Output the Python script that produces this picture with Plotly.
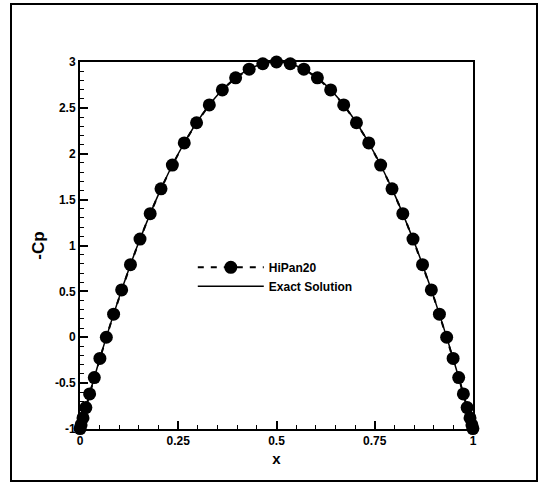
import plotly.graph_objects as go

# HiPan20 panel results
hipan_x = [0.0003, 0.0027, 0.0076, 0.0149, 0.0245, 0.0364, 0.0506, 0.0670, 0.0855, 0.1060,
           0.1284, 0.1527, 0.1786, 0.2061, 0.2350, 0.2653, 0.2966, 0.3290, 0.3622, 0.3960,
           0.4304, 0.4651, 0.5000, 0.5349, 0.5696, 0.6040, 0.6378, 0.6710, 0.7034, 0.7347,
           0.7650, 0.7939, 0.8214, 0.8473, 0.8716, 0.8940, 0.9145, 0.9330, 0.9494, 0.9636,
           0.9755, 0.9851, 0.9924, 0.9973, 0.9997]
hipan_cp = [-0.995, -0.956, -0.879, -0.766, -0.618, -0.439, -0.231, 0.000, 0.251, 0.516,
            0.791, 1.070, 1.347, 1.618, 1.877, 2.118, 2.338, 2.532, 2.696, 2.827,
            2.922, 2.981, 3.000, 2.981, 2.922, 2.827, 2.696, 2.532, 2.338, 2.118,
            1.877, 1.618, 1.347, 1.070, 0.791, 0.516, 0.251, 0.000, -0.231, -0.439,
            -0.618, -0.766, -0.879, -0.956, -0.995]

# Exact solution curve
exact_x = [0.0, 0.005, 0.01, 0.02, 0.03, 0.04, 0.05, 0.07, 0.1, 0.125, 0.15, 0.2, 0.25,
           0.3, 0.35, 0.4, 0.45, 0.5, 0.55, 0.6, 0.65, 0.7, 0.75, 0.8, 0.85, 0.875,
           0.9, 0.93, 0.95, 0.96, 0.97, 0.98, 0.99, 0.995, 1.0]
exact_cp = [-1.0, -0.920, -0.842, -0.686, -0.534, -0.386, -0.24, 0.042, 0.44, 0.75, 1.04,
            1.56, 2.0, 2.36, 2.64, 2.84, 2.96, 3.0, 2.96, 2.84, 2.64, 2.36, 2.0, 1.56,
            1.04, 0.75, 0.44, 0.042, -0.24, -0.386, -0.534, -0.686, -0.842, -0.920, -1.0]

x_ticks = [0, 0.25, 0.5, 0.75, 1]
x_tick_labels = ["0", "0.25", "0.5", "0.75", "1"]
y_ticks = [-1, -0.5, 0, 0.5, 1, 1.5, 2, 2.5, 3]
y_tick_labels = ["-1", "-0.5", "0", "0.5", "1", "1.5", "2", "2.5", "3"]

FONT = "Liberation Sans, Arial, sans-serif"

fig = go.Figure()
fig.add_trace(go.Scatter(
    x=hipan_x, y=hipan_cp, name="<b>HiPan20</b>", mode="lines+markers",
    line=dict(color="black", width=2, dash="6px,7px"),
    marker=dict(color="black", size=13, symbol="circle"),
    cliponaxis=False))
fig.add_trace(go.Scatter(
    x=exact_x, y=exact_cp, name="<b>Exact Solution</b>", mode="lines",
    line=dict(color="black", width=1.5, shape="spline"),
    cliponaxis=False))

axis_common = dict(
    showgrid=False, zeroline=False, showline=True, linecolor="black", linewidth=2,
    mirror=True, ticks="inside", ticklen=8, tickwidth=2, tickcolor="black",
    tickfont=dict(family=FONT, size=12, color="black"),
)

fig.update_xaxes(
    range=[0, 1], tickvals=x_ticks, ticktext=["<b>%s</b>" % t for t in x_tick_labels],
    minor=dict(ticks="inside", dtick=0.05, ticklen=4, tickwidth=1, tickcolor="black"),
    title=dict(text="<b>x</b>", font=dict(family=FONT, size=15, color="black"), standoff=6),
    **axis_common)
fig.update_yaxes(
    range=[-1, 3], tickvals=y_ticks, ticktext=["<b>%s</b>" % t for t in y_tick_labels],
    minor=dict(ticks="inside", dtick=0.1, ticklen=4, tickwidth=1, tickcolor="black"),
    title=dict(text="<b>-Cp</b>", font=dict(family=FONT, size=17, color="black"), standoff=6),
    **axis_common)

fig.add_shape(type="rect", xref="paper", yref="paper",
              x0=(11 - 80) / 393, x1=(537 - 80) / 393,
              y0=(429 - 481) / 367, y1=(429 - 4) / 367,
              line=dict(color="black", width=2), fillcolor="rgba(0,0,0,0)")

fig.update_layout(
    width=547, height=484,
    margin=dict(l=80, r=74, t=62, b=55),
    paper_bgcolor="white", plot_bgcolor="white",
    showlegend=True,
    legend=dict(x=0.287, y=0.48, xanchor="left", yanchor="top",
                bgcolor="rgba(0,0,0,0)", itemwidth=66,
                font=dict(family=FONT, size=12, color="black"), tracegroupgap=0),
    font=dict(family=FONT, color="black"),
)

fig.write_html("out.html")
